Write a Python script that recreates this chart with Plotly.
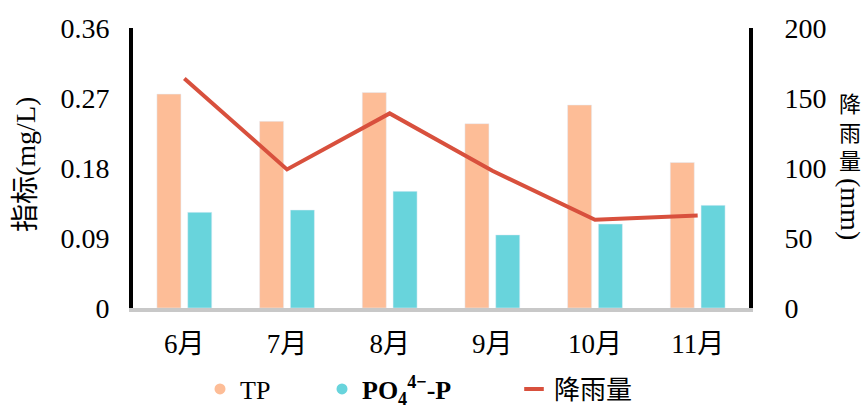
import plotly.graph_objects as go

# Monthly data
months = ["6月", "7月", "8月", "9月", "10月", "11月"]
tp = [0.275, 0.240, 0.277, 0.237, 0.261, 0.187]
po4 = [0.123, 0.126, 0.150, 0.094, 0.108, 0.132]
rainfall = [164, 99, 139, 98, 63, 66]

left_ticks = [0, 0.09, 0.18, 0.27, 0.36]
left_labels = ["0", "0.09", "0.18", "0.27", "0.36"]
right_ticks = [0, 50, 100, 150, 200]
right_labels = ["0", "50", "100", "150", "200"]

TP_COLOR = "#FDBD97"
PO4_COLOR = "#68D4DC"
RAIN_COLOR = "#D8503D"
FONT = "Liberation Serif, Noto Sans CJK SC, serif"

W, H = 865, 406
L, R, T, B = 133, 116, 28, 98
PW, PH = W - L - R, H - T - B


def px(x):
    return (x - L) / PW


def py(y):
    return (H - B - y) / PH


fig = go.Figure()

fig.add_trace(go.Bar(x=months, y=tp, name="TP", marker_color=TP_COLOR,
                     showlegend=False, yaxis="y"))
fig.add_trace(go.Bar(x=months, y=po4, name="PO4", marker_color=PO4_COLOR,
                     showlegend=False, yaxis="y"))
fig.add_trace(go.Scatter(x=months, y=rainfall, mode="lines", name="降雨量",
                         line=dict(color=RAIN_COLOR, width=4),
                         showlegend=False, yaxis="y2"))

# Legend keys (one legend per entry so each can be placed freely)
fig.add_trace(go.Scatter(x=[None], y=[None], mode="markers", name="TP",
                         marker=dict(symbol="circle", size=11, color=TP_COLOR),
                         legend="legend"))
fig.add_trace(go.Scatter(x=[None], y=[None], mode="markers",
                         name="<b>PO<sub>4</sub><sup>4−</sup>-P</b>",
                         marker=dict(symbol="circle", size=11, color=PO4_COLOR),
                         legend="legend2"))
fig.add_trace(go.Scatter(x=[None], y=[None], mode="markers", name="降雨量",
                         marker=dict(symbol="line-ew", size=14,
                                     line=dict(width=4, color=RAIN_COLOR)),
                         legend="legend3"))

legend_common = dict(orientation="h", yanchor="middle", xanchor="left",
                     font=dict(family=FONT, size=26, color="black"),
                     bgcolor="rgba(0,0,0,0)", borderwidth=0)

fig.update_layout(
    width=W, height=H,
    margin=dict(l=L, r=R, t=T, b=B, autoexpand=False),
    paper_bgcolor="white", plot_bgcolor="white",
    font=dict(family=FONT, color="black"),
    barmode="group", bargap=0.4, bargroupgap=0.22,
    xaxis=dict(showline=True, linecolor="#C8C8C8", linewidth=4,
               ticks="", showgrid=False, zeroline=False,
               tickfont=dict(size=27), ticklabelstandoff=9),
    yaxis=dict(range=[0, 0.36], tickvals=left_ticks, ticktext=left_labels,
               showline=True, linecolor="black", linewidth=4, ticks="",
               showgrid=False, zeroline=False, tickfont=dict(size=28),
               ticklabelstandoff=14),
    yaxis2=dict(range=[0, 200], tickvals=right_ticks, ticktext=right_labels,
                overlaying="y", side="right",
                showline=True, linecolor="black", linewidth=4, ticks="",
                showgrid=False, zeroline=False, tickfont=dict(size=28),
                ticklabelstandoff=26),
    legend=dict(x=px(200), y=py(389), **legend_common),
    legend2=dict(x=px(322), y=py(389), **legend_common),
    legend3=dict(x=px(514), y=py(389), **legend_common),
)

# Axis titles
fig.add_annotation(text="指标(mg/L)", xref="paper", yref="paper",
                   x=px(25), y=py(165), textangle=-90, showarrow=False,
                   font=dict(size=28), xanchor="center", yanchor="middle")
fig.add_annotation(text="降<br>雨<br>量", xref="paper", yref="paper",
                   x=px(850), y=py(133), showarrow=False,
                   font=dict(size=22), xanchor="center", yanchor="middle")
fig.add_annotation(text="(mm)", xref="paper", yref="paper",
                   x=px(850), y=py(209), textangle=90, showarrow=False,
                   font=dict(size=28), xanchor="center", yanchor="middle")

fig.write_html("out.html")
